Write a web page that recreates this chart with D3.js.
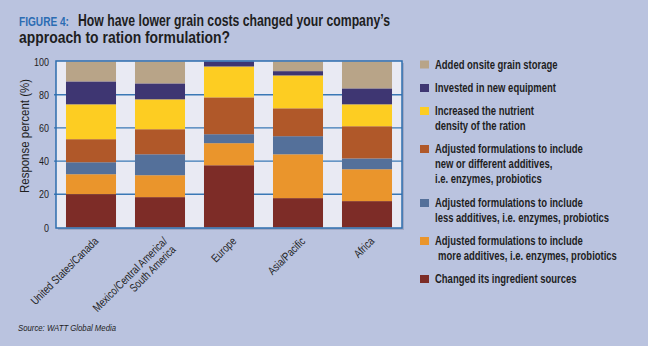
<!DOCTYPE html>
<html>
<head>
<meta charset="utf-8">
<script src="https://cdn.jsdelivr.net/npm/d3@7"></script>
<style>
  body { margin: 0; background: #bac3df; }
  svg { display: block; }
  text { font-family: "Liberation Sans", Arial, sans-serif; }
</style>
</head>
<body>
<svg width="648" height="346"></svg>
<script>
// regions on the x axis (label lines for the rotated ticks)
var categories = ["United States/Canada", "Mexico/Central America/South America", "Europe", "Asia/Pacific", "Africa"];
var categoryLines = [["United States/Canada"], ["Mexico/Central America/", "South America"], ["Europe"], ["Asia/Pacific"], ["Africa"]];

// series, bottom of the stack first
var changedSources  = [20.1, 18.3, 37.5, 17.7, 15.9];
var moreAdditives   = [12.0, 13.2, 13.3, 26.4, 19.2];
var lessAdditives   = [7.2, 12.6, 5.4, 10.9, 6.5];
var newAdditives    = [13.9, 15.1, 22.2, 16.8, 19.4];
var nutrientDensity = [21.0, 18.0, 18.6, 19.8, 13.2];
var newEquipment    = [13.8, 9.6, 3.0, 2.6, 9.6];
var grainStorage    = [12.0, 13.2, 0.0, 5.8, 16.2];

var seriesKeys = ["changed", "more", "less", "newadd", "nutrient", "equipment", "storage"];
var seriesValues = [changedSources, moreAdditives, lessAdditives, newAdditives, nutrientDensity, newEquipment, grainStorage];
var seriesColors = ["#7d2c27", "#ea952c", "#54709a", "#b05829", "#fdcd22", "#3e3672", "#b8a488"];
var legendLines = [
  ["Changed its ingredient sources"],
  ["Adjusted formulations to include", " more additives, i.e. enzymes, probiotics"],
  ["Adjusted formulations to include", "less additives, i.e. enzymes, probiotics"],
  ["Adjusted formulations to include", "new or different additives,", "i.e. enzymes, probiotics"],
  ["Increased the nutrient", "density of the ration"],
  ["Invested in new equipment"],
  ["Added onsite grain storage"]
];
var yTicks = [0, 20, 40, 60, 80, 100];

var svg = d3.select('svg');

// the original uses a condensed face, so squeeze the text horizontally
function squeeze(sel, k) {
  sel.each(function () {
    var t = d3.select(this);
    var tx = +t.attr('x') || 0, ty = +t.attr('y') || 0;
    t.attr('x', 0).attr('y', 0)
      .attr('transform', 'translate(' + tx + ',' + ty + ') scale(' + k + ',1)');
  });
}

// rows for the stack
var rows = categories.map(function (c, i) {
  var r = { cat: c };
  seriesKeys.forEach(function (k, j) { r[k] = seriesValues[j][i]; });
  return r;
});
var stacked = d3.stack().keys(seriesKeys)(rows);

var x = d3.scaleBand().domain(categories).range([56.5, 401.5]).paddingInner(0.275).paddingOuter(0.1375);
var y = d3.scaleLinear().domain([0, 100]).range([227.5, 61.5]);

// title
var t0 = svg.append('text').attr('x', 19).attr('y', 26)
  .style('font-weight', 'bold').style('font-size', '13px').style('fill', '#2b6cb3')
  .text('FIGURE 4:');
var t1 = svg.append('text').attr('x', 78).attr('y', 26)
  .style('font-weight', 'bold').style('font-size', '16.5px').style('fill', '#1e1e1e')
  .text('How have lower grain costs changed your company\u2019s');
var t2 = svg.append('text').attr('x', 19).attr('y', 43)
  .style('font-weight', 'bold').style('font-size', '16.5px').style('fill', '#1e1e1e')
  .text('approach to ration formulation?');
t0.attr('textLength', 50).attr('lengthAdjust', 'spacingAndGlyphs');
t1.attr('textLength', 312).attr('lengthAdjust', 'spacingAndGlyphs');
t2.attr('textLength', 211).attr('lengthAdjust', 'spacingAndGlyphs');

// plot frame with shadow
svg.append('rect').attr('x', 58).attr('y', 63).attr('width', 346).attr('height', 167)
  .style('fill', '#8d96b4').style('opacity', 0.6);
svg.append('rect').attr('x', 56).attr('y', 61).attr('width', 346).attr('height', 167)
  .style('fill', '#e9eaf3');

// gridlines
svg.append('g').selectAll('line')
  .data(yTicks.slice(1, 5))
  .enter()
  .append('line')
  .attr('x1', 54).attr('x2', 402)
  .attr('y1', function (d) { return y(d); })
  .attr('y2', function (d) { return y(d); })
  .style('stroke', '#3a78b5').style('stroke-width', 1.4);

// bars
svg.append('g').selectAll('g')
  .data(stacked)
  .enter()
  .append('g')
  .style('fill', function (d, i) { return seriesColors[i]; })
  .selectAll('rect')
  .data(function (d) { return d; })
  .enter()
  .append('rect')
  .attr('x', function (d) { return x(d.data.cat); })
  .attr('width', x.bandwidth())
  .attr('y', function (d) { return y(d[1]); })
  .attr('height', function (d) { return y(d[0]) - y(d[1]); });

// frame border
svg.append('rect').attr('x', 56).attr('y', 61).attr('width', 346).attr('height', 167)
  .style('fill', 'none').style('stroke', '#2e6eae').style('stroke-width', 1.5);

// y axis labels
var yl = svg.append('g').selectAll('text')
  .data(yTicks)
  .enter()
  .append('text')
  .attr('x', 49)
  .attr('y', function (d) { return y(d) + 4; })
  .attr('text-anchor', 'end')
  .style('font-size', '11.5px').style('fill', '#1e1e1e')
  .text(function (d) { return d; });
squeeze(yl, 0.78);

var yt = svg.append('text')
  .attr('transform', 'translate(29,136) rotate(-90)')
  .attr('text-anchor', 'middle')
  .style('font-size', '12px').style('fill', '#1e1e1e')
  .text('Response percent (%)');
yt.attr('textLength', 114).attr('lengthAdjust', 'spacingAndGlyphs');

// x labels, rotated, one text per line
var xg = svg.append('g').selectAll('g')
  .data(categories)
  .enter()
  .append('g')
  .attr('transform', function (d) {
    return 'translate(' + (x(d) + x.bandwidth() / 2 + 8) + ',242) rotate(-45)';
  });
var xl = xg.selectAll('text')
  .data(function (d, i) { return categoryLines[i]; })
  .enter()
  .append('text')
  .attr('x', 0)
  .attr('y', function (d, i) { return i * 12; })
  .attr('text-anchor', 'end')
  .style('font-size', '11.5px').style('fill', '#1e1e1e')
  .text(function (d) { return d; });
squeeze(xl, 0.8);

// legend, top item first
var legendOrder = d3.range(seriesKeys.length).reverse();
var legendY = [68.5, 92, 115, 153, 207, 245, 283];
var lg = svg.append('g').selectAll('g')
  .data(legendOrder)
  .enter()
  .append('g')
  .attr('transform', function (d, i) { return 'translate(420,' + legendY[i] + ')'; });
lg.append('rect')
  .attr('x', 0).attr('y', -8).attr('width', 9).attr('height', 8)
  .style('fill', function (d) { return seriesColors[d]; });
var lt = lg.selectAll('text')
  .data(function (d) { return legendLines[d]; })
  .enter()
  .append('text')
  .attr('x', function (d) { return d.charAt(0) === ' ' ? 18 : 15; })
  .attr('y', function (d, i) { return i * 15; })
  .style('font-size', '12px').style('font-weight', 'bold').style('fill', '#1e1e1e')
  .text(function (d) { return d.trim(); });
squeeze(lt, 0.79);

// source
svg.append('text').attr('x', 18).attr('y', 331)
  .style('font-size', '9.5px').style('font-style', 'italic').style('fill', '#1e1e1e')
  .attr('textLength', 98).attr('lengthAdjust', 'spacingAndGlyphs')
  .text('Source: WATT Global Media');
</script>
</body>
</html>
